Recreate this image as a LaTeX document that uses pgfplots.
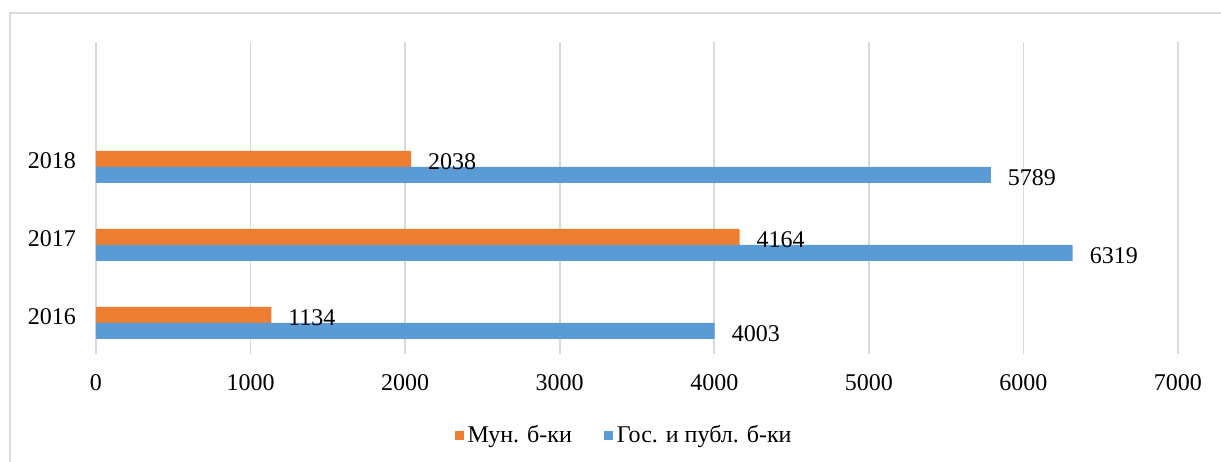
\documentclass[border=0pt]{standalone}
\usepackage{fontspec}
\setmainfont{Liberation Serif}
\usepackage{pgfplots}
\pgfplotsset{compat=1.18}
\definecolor{orng}{HTML}{ED7D31}
\definecolor{blu}{HTML}{5B9BD5}
\definecolor{grd}{HTML}{D9D9D9}
\begin{document}
\begin{tikzpicture}
\useasboundingbox (0,0) rectangle (610.5pt,230.5pt);
\draw[grd, line width=0.8pt] (5pt,-5pt) -- (5pt,224pt) -- (620pt,224pt);
\begin{axis}[
 at={(48pt,53.5pt)}, anchor=south west,
 scale only axis, width=541pt, height=156pt,
 xbar, bar width=8pt,
 xmin=0, xmax=7000, ymin=-0.4, ymax=3.6,
 xtick={0,1000,...,7000},
 ytick={0,1,2}, yticklabels={2016,2017,2018},
 axis line style={draw=none},
 major tick length=0pt,
 xmajorgrids, major grid style={grd, line width=0.8pt},
 font=\fontsize{12}{14}\selectfont,
 /pgf/number format/assume math mode=true,
 /pgf/number format/1000 sep={},
 xticklabel style={yshift=-6.5pt},
 yticklabel style={xshift=-6.5pt, yshift=3pt},
 nodes near coords,
 nodes near coords style={font=\fontsize{12}{14}\selectfont, xshift=5pt, yshift=-1.5pt, /pgf/number format/assume math mode=true, /pgf/number format/1000 sep={}},
 legend style={draw=none, at={(0.489,0)}, anchor=center, yshift=-40.5pt, legend columns=2, font=\fontsize{12}{14}\selectfont, /tikz/every even column/.append style={column sep=14pt}},
 legend image code/.code={\fill[#1] (0pt,-2.25pt) rectangle (4.5pt,2.25pt);},
]
\addplot[fill=orng, draw=none, bar shift=4pt] coordinates {(1134,0) (4164,1) (2038,2)};
\addplot[fill=blu, draw=none, bar shift=-4pt] coordinates {(4003,0) (6319,1) (5789,2)};
\legend{Мун. б-ки, Гос. и публ. б-ки}
\end{axis}
\end{tikzpicture}
\end{document}
